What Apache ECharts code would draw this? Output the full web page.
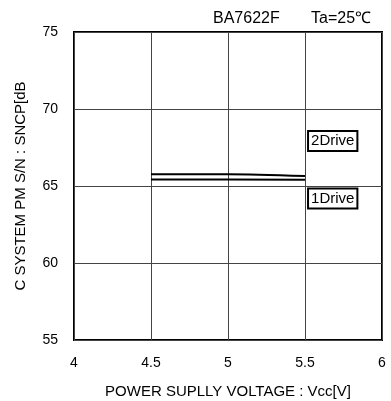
<!DOCTYPE html>
<html><head><meta charset="utf-8">
<script src="https://cdn.jsdelivr.net/npm/echarts@6/dist/echarts.min.js"></script>
<style>html,body{margin:0;padding:0;background:#fff}#c{width:391px;height:401px}</style>
</head><body><div id="c"></div>
<script>
var xTicks = [4, 4.5, 5, 5.5, 6];
var yTicks = [55, 60, 65, 70, 75];
var vcc = [4.5, 5, 5.5];
var drive2 = [65.77, 65.77, 65.65];
var drive1 = [65.42, 65.42, 65.41];
var labelNames = ['2Drive', '1Drive'];
var labelPos = [[5.68, 67.92], [5.68, 64.19]];

var font = 'Liberation Sans, Arial, sans-serif';
function pairs(xs, ys){ return xs.map(function(x,i){return [x, ys[i]];}); }
function boxLabel(name, pos){
  return {
    symbol: 'rect', symbolSize: 0, silent: true,
    data: [{coord: pos, value: name}],
    label: {show: true, position: 'inside', formatter: name, color: '#000', fontFamily: font, fontSize: 15,
      lineHeight: 17, backgroundColor: '#fff', borderColor: '#000', borderWidth: 2, padding: [1, 2, 0, 2]}
  };
}
var chart = echarts.init(document.getElementById('c'), null, {renderer: 'canvas'});
var s2 = {type: 'line', name: '2Drive', data: pairs(vcc, drive2), symbol: 'none', smooth: 0.3,
  lineStyle: {color: '#000', width: 2}, z: 3, markPoint: boxLabel(labelNames[0], labelPos[0])};
var s1 = {type: 'line', name: '1Drive', data: pairs(vcc, drive1), symbol: 'none',
  lineStyle: {color: '#000', width: 2}, z: 3, markPoint: boxLabel(labelNames[1], labelPos[1])};
chart.setOption({
  animation: false,
  backgroundColor: '#fff',
  grid: {left: 74, right: 9, top: 32, bottom: 61, containLabel: false, outerBoundsMode: 'none',
    show: true, borderColor: '#000', borderWidth: 2, backgroundColor: 'transparent'},
  xAxis: {type: 'value', min: xTicks[0], max: xTicks[xTicks.length-1], interval: 0.5,
    name: 'POWER SUPLLY VOLTAGE : Vcc[V]', nameLocation: 'middle', nameGap: 44,
    nameTextStyle: {color: '#000', fontFamily: font, fontSize: 15},
    axisLine: {show: false}, axisTick: {show: false},
    axisLabel: {color: '#000', fontFamily: font, fontSize: 14, margin: 16,
      formatter: function(v){ return xTicks.indexOf(v) >= 0 ? String(v) : ''; }},
    splitLine: {show: true, lineStyle: {color: '#444', width: 1}}},
  yAxis: {type: 'value', min: yTicks[0], max: yTicks[yTicks.length-1], interval: 5,
    name: 'C SYSTEM PM S/N : SNCP[dB', nameLocation: 'middle', nameGap: 46, nameRotate: 90,
    nameTextStyle: {color: '#000', fontFamily: font, fontSize: 15},
    axisLine: {show: false}, axisTick: {show: false},
    axisLabel: {color: '#000', fontFamily: font, fontSize: 14, margin: 16},
    splitLine: {show: true, lineStyle: {color: '#444', width: 1}}},
  graphic: [
    {type: 'text', x: 213, y: 19, style: {text: 'BA7622F', fill: '#000', font: '16px ' + font, verticalAlign: 'middle'}},
    {type: 'text', x: 311, y: 19, style: {text: 'Ta=25℃', fill: '#000', font: '16px ' + font, verticalAlign: 'middle'}}
  ],
  series: [s2, s1]
});
</script></body></html>
